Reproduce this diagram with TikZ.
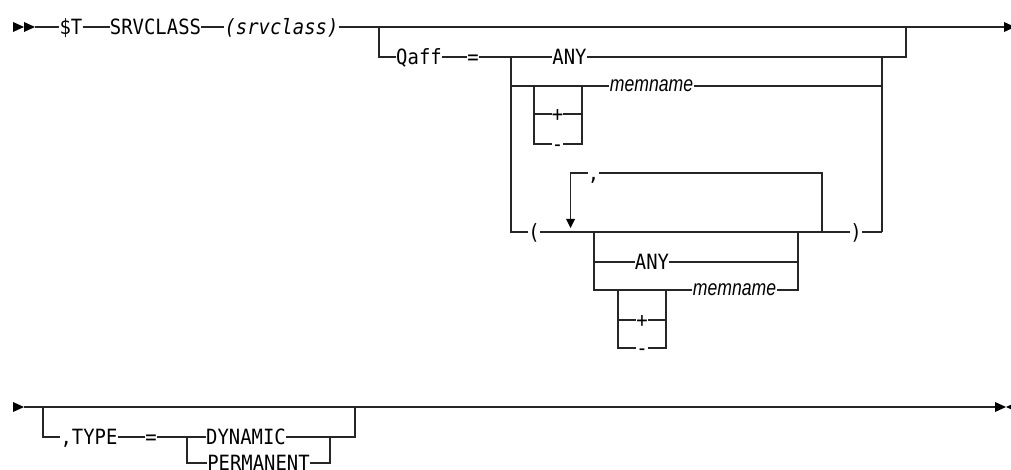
\documentclass[tikz,border=0pt]{standalone}
\usepackage{fontspec}
\usepackage{graphicx}
\newfontfamily\monof[FakeStretch=0.9]{DejaVu Sans Mono}
\newfontfamily\memf{Liberation Sans}
\begin{document}
\begin{tikzpicture}[x=1pt,y=-1pt,
  kw/.style={inner xsep=0pt, inner ysep=0pt, text height=15.2pt, text depth=0pt, font=\monof\fontsize{21}{21}\selectfont},
  var/.style={kw, font=\monof\itshape\fontsize{21}{21}\selectfont},
  mem/.style={inner xsep=1pt, inner ysep=0pt, text height=11.5pt, text depth=0pt, font=\memf\itshape\fontsize{22}{22}\selectfont},
  ln/.style={draw=black!85, line width=1.2pt},
  tip/.style={fill=black}]
\useasboundingbox (0,0) rectangle (1011,470);

% ---------- Row 1 ----------
\fill[tip] (13,22) -- (24,27) -- (13,32) -- cycle;
\fill[tip] (24,22) -- (35,27) -- (24,32) -- cycle;
\coordinate (s1) at (35,27);
\node[kw] (dT) at (71,27) {\$T};
\node[kw] (srv) at (155.5,27) {SRVCLASS};
\node[var] (srvv) at (281.5,27) {(srvclass)};
\coordinate (e1) at (1004,27);
\fill[tip] (1004,22) -- (1015,27) -- (1004,32) -- cycle;
\draw[ln] (s1) -- (dT.west);
\draw[ln] (dT.east) -- (srv.west);
\draw[ln] (srv.east) -- (srvv.west);
\draw[ln] (srvv.east) -- (e1);

% Qaff branch
\coordinate (q0) at (379,27);
\coordinate (q1) at (906,27);
\node[kw] (qaff) at (419,57) {Qaff};
\node[kw] (eq1) at (473,57) {=};
\coordinate (c1) at (511,57);
\node[kw] (any1) at (569.5,57) {ANY};
\coordinate (c2) at (882,57);
\draw[ln] (q0) |- (qaff.west);
\draw[ln] (qaff.east) -- (eq1.west);
\draw[ln] (eq1.east) -- (c1);
\draw[ln] (c1) -- (any1.west);
\draw[ln] (any1.east) -| (q1);

% memname row 1
\coordinate (m0) at (511,86);
\coordinate (b1l) at (534,86);
\coordinate (b1r) at (582,86);
\node[mem] (mem1) at (651.5,86) {\scalebox{0.8}[1]{memname}};
\coordinate (c3) at (882,86);
\draw[ln] (m0) -- (mem1.west);
\draw[ln] (mem1.east) -- (c3);
\node[kw] (plus1) at (557.5,114) {+};
\node[kw] (minus1) at (557.5,144) {-};
\draw[ln] (b1l) |- (plus1.west);
\draw[ln] (plus1.east) -| (b1r);
\draw[ln] (b1l) |- (minus1.west);
\draw[ln] (minus1.east) -| (b1r);

% paren row
\node[kw] (lp) at (534,232) {(};
\node[kw] (rp) at (856,232) {)};
\coordinate (c4) at (882,232);
\draw[ln] (c1) |- (lp.west);
\draw[ln] (lp.east) -- (rp.west);
\draw[ln] (rp.east) -- (c4);
\draw[ln] (c2) -- (c4);

% repeat loop
\coordinate (lpR) at (822,232);
\coordinate (arTop) at (570.5,219);
\node[kw] (comma) at (593.5,173) {,};
\draw[ln] (comma.west) -| (arTop);
\draw[ln] (comma.east) -| (lpR);
\fill[tip] (566,219) -- (575,219) -- (570.5,228) -- cycle;

% inner choice
\coordinate (i0) at (594,232);
\coordinate (i1) at (798,232);
\node[kw] (any2) at (652,262) {ANY};
\node[mem] (mem2) at (734.5,290) {\scalebox{0.8}[1]{memname}};
\draw[ln] (i0) |- (any2.west);
\draw[ln] (any2.east) -| (i1);
\draw[ln] (i0) |- (mem2.west);
\draw[ln] (mem2.east) -| (i1);
\coordinate (b2l) at (618,290);
\coordinate (b2r) at (666,290);
\node[kw] (plus2) at (642,320) {+};
\node[kw] (minus2) at (642,348) {-};
\draw[ln] (b2l) |- (plus2.west);
\draw[ln] (plus2.east) -| (b2r);
\draw[ln] (b2l) |- (minus2.west);
\draw[ln] (minus2.east) -| (b2r);

% ---------- Row 2 ----------
\fill[tip] (13,402) -- (24,407) -- (13,412) -- cycle;
\coordinate (s2) at (24,407);
\coordinate (e2) at (995,407);
\draw[ln] (s2) -- (e2);
\fill[tip] (995,402) -- (1006,407) -- (995,412) -- cycle;
\fill[tip] (1017,402) -- (1006,407) -- (1017,412) -- cycle;

\coordinate (t0) at (43,407);
\node[kw] (type) at (89,437) {,TYPE};
\node[kw] (eq2) at (151,437) {=};
\coordinate (t1) at (187,437);
\node[kw] (dyn) at (246,437) {DYNAMIC};
\node[kw] (perm) at (258.5,463) {PERMANENT};
\coordinate (t2) at (330,437);
\coordinate (t4) at (355,407);
\draw[ln] (t0) |- (type.west);
\draw[ln] (type.east) -- (eq2.west);
\draw[ln] (eq2.east) -- (t1);
\draw[ln] (t1) -- (dyn.west);
\draw[ln] (dyn.east) -| (t4);
\draw[ln] (t1) |- (perm.west);
\draw[ln] (perm.east) -| (t2);
\end{tikzpicture}
\end{document}
